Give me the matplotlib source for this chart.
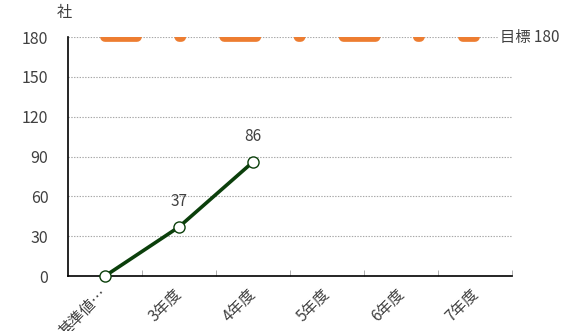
import matplotlib
matplotlib.use("Agg")
import matplotlib.pyplot as plt
import numpy as np

plt.rcParams['font.family'] = ['Noto Sans CJK JP', 'DejaVu Sans']
plt.rcParams['lines.scale_dashes'] = False

categories = ['基準値…', '3年度', '4年度', '5年度', '6年度', '7年度']
actual = [0, 37, 86, None, None, None]
target = [180, 180, 180, 180, 180, 180]
yticks = [0, 30, 60, 90, 120, 150, 180]
unit_label = '社'
target_label = '目標 180'

text_color = '#404040'
fig = plt.figure(figsize=(5.66, 3.31), dpi=100)
ax = fig.add_axes([0.120, 0.166, 0.785, 0.722])

x = np.arange(len(categories))
ax.set_xlim(-0.5, len(categories) - 0.5)
ax.set_ylim(0, 180)

# target line (dash-dot, thick, round caps)
tl, = ax.plot(x, target, color='#ED7D31', lw=7.0,
              linestyle=(0, (23, 30.5, 1.4, 31)),
              dash_capstyle='round', solid_capstyle='round', zorder=3)

# actual line
xs = [xi for xi, v in zip(x, actual) if v is not None]
ys = [v for v in actual if v is not None]
ax.plot(xs, ys, color='#0B3F0B', lw=2.6, marker='o', markersize=8,
        markerfacecolor='white', markeredgecolor='#0B3F0B', markeredgewidth=1.0,
        zorder=4, clip_on=False)
for xi, v in zip(xs, ys):
    if v > 0:
        ax.annotate(str(v), (xi, v), xytext=(0, 18), textcoords='offset points',
                    ha='center', va='center', fontsize=11, color=text_color)

ax.set_yticks(yticks)
ax.set_yticklabels([str(t) for t in yticks], fontsize=11.5, color=text_color)
ax.tick_params(axis='y', length=0, pad=14)
ax.yaxis.grid(True, color='#A8A8A8', linestyle=(0, (1, 1)), lw=0.8)
ax.set_axisbelow(True)

ax.set_xticks(x)
ax.set_xticklabels(categories, rotation=45, ha='right', va='center',
                   rotation_mode='anchor', fontsize=11, color=text_color)
ax.tick_params(axis='x', length=0, pad=11)
ax.set_xticks(np.arange(0.5, len(categories), 1), minor=True)
ax.tick_params(axis='x', which='minor', direction='in', length=4, color='#A0A0A0')

for s in ['top', 'right']:
    ax.spines[s].set_visible(False)
for s in ['left', 'bottom']:
    ax.spines[s].set_color('black')
    ax.spines[s].set_linewidth(1.2)

fig.text(64 / 566, 1 - 13 / 331, unit_label, ha='center', va='center',
         fontsize=11, color=text_color)
ax.text(5.34, 180, target_label, ha='left', va='center', fontsize=11,
        color=text_color, clip_on=False,
        bbox=dict(facecolor='white', edgecolor='none', pad=1))

fig.savefig('out.png', dpi=100)
